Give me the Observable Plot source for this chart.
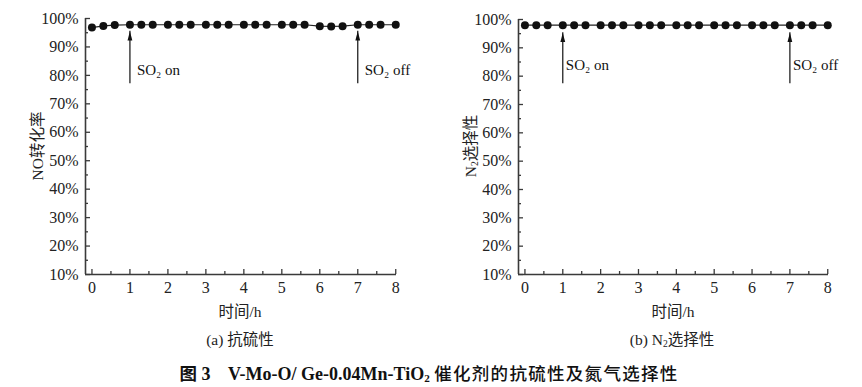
<!DOCTYPE html>
<html>
<head>
<meta charset="utf-8">
<script src="https://cdn.jsdelivr.net/npm/d3@7"></script>
<script src="https://cdn.jsdelivr.net/npm/@observablehq/plot@0.6"></script>
<style>
  html, body { margin: 0; padding: 0; background: #fff; }
  #root { position: relative; width: 862px; height: 387px; overflow: hidden; background: #fff; }
  .panel { position: absolute; top: 0; }
  .lbl { position: absolute; transform: translate(-50%, -50%); white-space: nowrap;
         font-family: "Liberation Serif", "Noto Sans CJK SC", serif; font-size: 15.5px; color: #222; }
  .ylbl { transform: translate(-50%, -50%) rotate(-90deg); }
  sub { font-size: 0.62em; vertical-align: -0.25em; line-height: 0; }
  #cap { position: absolute; top: 372px; left: 429px; transform: translate(-50%, -50%); white-space: nowrap; color: #111; font-size: 17.5px; }
  .cjkb { font-family: "Noto Sans CJK SC"; font-weight: 700; }
  .tb { font-family: "Liberation Serif"; font-weight: 700; font-size: 18px; }
  .cjk { font-family: "Noto Sans CJK SC"; font-weight: 500; letter-spacing: 1.3px; }
</style>
</head>
<body>
<div id="root"></div>
<script>
// ---- data ----
const hours = [0, 0.3, 0.6, 1, 1.3, 1.6, 2, 2.3, 2.6, 3, 3.3, 3.6, 4, 4.3, 4.6, 5, 5.3, 5.6, 6, 6.3, 6.6, 7, 7.3, 7.6, 8];
const noConversion = [96.8, 97.4, 97.7, 97.8, 97.8, 97.8, 97.8, 97.8, 97.8, 97.8, 97.8, 97.8, 97.8, 97.8, 97.8, 97.8, 97.8, 97.8, 97.3, 97.2, 97.3, 97.8, 97.8, 97.8, 97.8];
const n2Selectivity = [98.0, 98.0, 98.0, 98.0, 98.0, 98.0, 98.0, 98.0, 98.0, 98.0, 98.0, 98.0, 98.0, 98.0, 98.0, 98.0, 98.0, 98.0, 98.0, 98.0, 98.0, 98.0, 98.0, 98.0, 98.0];
const xTicks = [0, 1, 2, 3, 4, 5, 6, 7, 8];
const xMinorTicks = [0.5, 1.5, 2.5, 3.5, 4.5, 5.5, 6.5, 7.5];
const yTicks = [10, 20, 30, 40, 50, 60, 70, 80, 90, 100];
const yMinorTicks = [15, 25, 35, 45, 55, 65, 75, 85, 95];
const eventsA = [
  {x: 1, from: 77.1, to: 95.5, ty: 81.8, label: "SO₂ on"},
  {x: 7, from: 77.1, to: 95.5, ty: 81.8, label: "SO₂ off"}
];
const eventsB = [
  {x: 1, from: 77.3, to: 95.3, ty: 83.7, label: "SO₂ on"},
  {x: 7, from: 77.3, to: 95.3, ty: 83.7, label: "SO₂ off"}
];
const yLabelA = "NO转化率";
const yLabelB = "N<sub>2</sub>选择性";
const xLabel = "时间/h";
const subA = "(a) 抗硫性";
const subB = "(b) N<sub>2</sub>选择性";

// narrow filled arrowhead, tip at the anchor point
const arrowHead = {
  draw(ctx, size) {
    const r = Math.sqrt(size / Math.PI);
    ctx.moveTo(0, 0);
    ctx.lineTo(r * 0.6, r * 2.3);
    ctx.lineTo(-r * 0.6, r * 2.3);
    ctx.closePath();
  }
};

function panel(values, events, m, textDx) {
  const width = 431, height = 300;
  const plotW = width - m.left - m.right;
  const plotH = height - m.top - m.bottom;
  const data = hours.map((h, i) => ({h, v: values[i]}));
  const axisColor = "#3a3a3a";
  return Plot.plot({
    width, height,
    marginLeft: m.left, marginRight: m.right, marginTop: m.top, marginBottom: m.bottom,
    x: {domain: [-0.17, 8.02]},
    y: {domain: [10, 100]},
    style: {fontFamily: "Liberation Serif", fontSize: "16px", color: "#222", background: "transparent", overflow: "visible"},
    marks: [
      Plot.axisX({ticks: xTicks, tickSize: 0, tickPadding: 7, label: null, fontSize: 16}),
      Plot.axisY({ticks: yTicks, tickSize: 0, tickPadding: 7, label: null, fontSize: 16, tickFormat: d => d + "%"}),
      Plot.tickX(xTicks, {x: d => d, insetTop: plotH - 5, stroke: axisColor, strokeWidth: 1.3}),
      Plot.tickX(xMinorTicks, {x: d => d, insetTop: plotH - 3, stroke: axisColor, strokeWidth: 1.3}),
      Plot.tickY(yTicks, {y: d => d, insetRight: plotW - 5, stroke: axisColor, strokeWidth: 1.3}),
      Plot.tickY(yMinorTicks, {y: d => d, insetRight: plotW - 3, stroke: axisColor, strokeWidth: 1.3}),
      Plot.ruleY([10], {stroke: axisColor, strokeWidth: 1.6}),
      Plot.ruleX([-0.17], {stroke: axisColor, strokeWidth: 1.6}),
      Plot.line(data, {x: "h", y: "v", stroke: "#222", strokeWidth: 1.2}),
      Plot.dot(data, {x: "h", y: "v", r: 4, fill: "#111", stroke: "none"}),
      Plot.ruleX(events, {x: "x", y1: "from", y2: "to", stroke: "#111", strokeWidth: 1.2}),
      Plot.dot(events, {x: "x", y: "to", symbol: arrowHead, r: 4, fill: "#111", stroke: "none"}),
      Plot.text(events, {x: "x", y: "ty", text: "label", textAnchor: "start", dx: textDx, fontSize: 15, fill: "#111"})
    ]
  });
}

const root = document.getElementById("root");

const pa = panel(noConversion, eventsA, {left: 85, right: 35, top: 18, bottom: 26}, 7);
const da = document.createElement("div");
da.className = "panel"; da.style.left = "0px";
da.appendChild(pa);
root.appendChild(da);

const pb = panel(n2Selectivity, eventsB, {left: 87, right: 34, top: 19, bottom: 26}, 3);
const db = document.createElement("div");
db.className = "panel"; db.style.left = "431px";
db.appendChild(pb);
root.appendChild(db);

function addLabel(html, x, y, cls) {
  const d = document.createElement("div");
  d.className = "lbl" + (cls ? " " + cls : "");
  d.style.left = x + "px";
  d.style.top = y + "px";
  d.innerHTML = html;
  root.appendChild(d);
}
addLabel(yLabelA, 36, 146, "ylbl");
addLabel(yLabelB, 469, 146, "ylbl");
addLabel(xLabel, 240, 310);
addLabel(xLabel, 673, 310);
addLabel(subA, 240, 338);
addLabel(subB, 672, 338);

const cap = document.createElement("div");
cap.id = "cap";
cap.innerHTML = '<span class="cjkb">图</span><span class="tb"> 3</span>&emsp;<span class="tb">V-Mo-O/ Ge-0.04Mn-TiO<sub>2</sub></span> <span class="cjk">催化剂的抗硫性及氮气选择性</span>';
root.appendChild(cap);
</script>
</body>
</html>
